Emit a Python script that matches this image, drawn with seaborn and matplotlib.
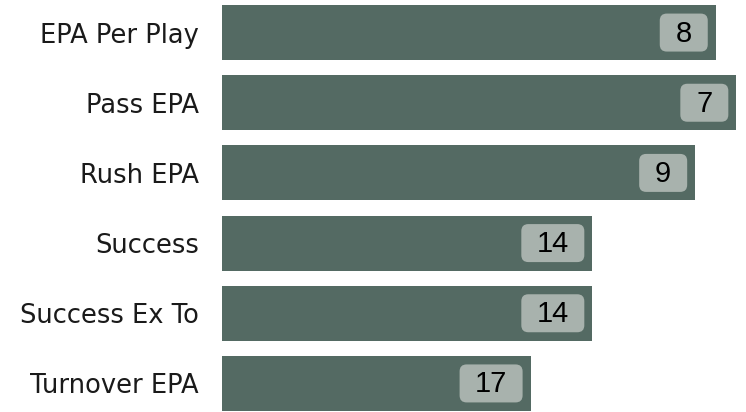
import matplotlib
matplotlib.use("Agg")
import matplotlib.pyplot as plt
import matplotlib.transforms as mtransforms
from matplotlib.patches import FancyBboxPatch
import pandas as pd
import seaborn as sns

# League ranks per metric (1 = best of 32 teams)
metrics = ["EPA Per Play", "Pass EPA", "Rush EPA", "Success", "Success Ex To", "Turnover EPA"]
ranks = [8, 7, 9, 14, 14, 17]
n_teams = 32

bar_color = "#546a63"
badge_color = "#a8b2ad"
text_color = "#1a1a1a"

df = pd.DataFrame({"metric": metrics, "rank": ranks})
df["score"] = n_teams - df["rank"]

sns.set_theme(style="white")
plt.rcParams["font.family"] = ["DejaVu Sans"]

fig = plt.figure(figsize=(7.46, 4.12), dpi=100)
ax = fig.add_axes([222 / 746, 0.5 / 412, 524 / 746, 407 / 412])

sns.barplot(data=df, x="score", y="metric", orient="h", color=bar_color,
            saturation=1, width=0.786, ax=ax, linewidth=0)

ax.set_xlim(0, 25.47)
ax.set_ylim(5.4, -0.4)
ax.set_xlabel("")
ax.set_ylabel("")
ax.set_xticks([])
sns.despine(ax=ax, left=True, bottom=True)
ax.tick_params(axis="y", length=0, pad=16.5, labelsize=18.5, labelcolor=text_color)

# Rank badges anchored just inside the end of each bar (sizes in inches)
for i, (score, rank) in enumerate(zip(df["score"], df["rank"])):
    label = str(rank)
    w = 0.33 + 0.15 * len(label)
    h = 0.38
    trans = fig.dpi_scale_trans + mtransforms.ScaledTranslation(score, i, ax.transData)
    box = FancyBboxPatch((-0.08 - w, -h / 2), w, h,
                         boxstyle="round,pad=0,rounding_size=0.07",
                         transform=trans, facecolor=badge_color, edgecolor="none",
                         zorder=3, clip_on=False)
    ax.add_patch(box)
    ax.text(-0.08 - w / 2, -0.01, label, transform=trans, ha="center", va="center",
            fontsize=21, color="black", zorder=4,
            family=["Liberation Sans", "DejaVu Sans"])

fig.savefig("out.png", dpi=100)
